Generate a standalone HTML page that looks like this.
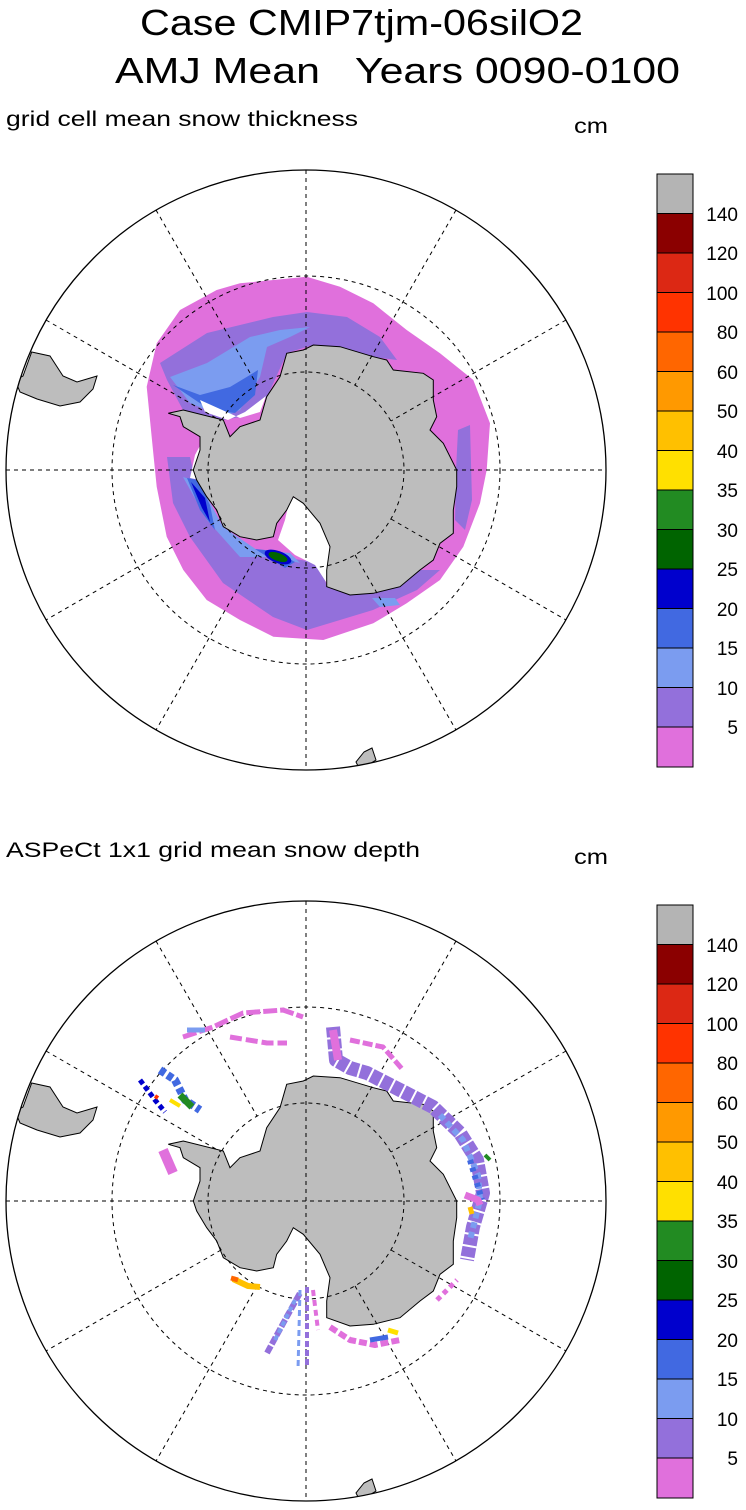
<!DOCTYPE html>
<html><head><meta charset="utf-8"><style>
html,body{margin:0;padding:0;background:#fff;}
svg{display:block;font-family:"Liberation Sans",sans-serif;}
</style></head><body>
<svg width="746" height="1510" viewBox="0 0 746 1510" xmlns="http://www.w3.org/2000/svg">
<defs>
<clipPath id="c1"><circle cx="306" cy="470" r="300"/></clipPath>
<clipPath id="c2"><circle cx="306" cy="1201" r="300"/></clipPath>
<path id="ant" d="M168.3,413.3 L183.3,410 L223.3,420 L230,436.7 L240,426.7 L260,420 L266.7,396.7 L280,376.7 L286.7,353.3 L303.3,350 L313.3,345 L340,346.7 L373.3,356.7 L386.7,360 L393.3,370 L423.3,373.3 L433.3,380 L433.3,400 L436.7,416.7 L430,430 L443.3,443.3 L456.7,470 L456.7,486.7 L453.3,510 L453.3,533.3 L440,543.3 L433.3,560 L420,570 L400,586.7 L373.3,593.3 L350,595 L326.7,586.7 L326.7,570 L330,546.7 L320,523.3 L303.3,503.3 L293.3,496.7 L286.7,510 L276.7,523.3 L273.3,536.7 L256.7,540 L240,536.7 L223.3,526.7 L216.7,510 L206.7,496.7 L196.7,480 L193.3,470 L200,450 L200,436.7 L183.3,426.7 L180,416.7 Z"/>
<path id="sam" d="M31.7,352 L50,356 L63,376 L77,382 L97,376 L93,389 L80,402 L60,406 L37,399 L20,392 L15,380 L23,376 Z"/>
<g id="grid" fill="none" stroke="#000" stroke-width="1" stroke-dasharray="4,4">
<circle cx="306" cy="470" r="194"/><circle cx="306" cy="470" r="98"/>
<line x1="6" y1="470" x2="606" y2="470"/><line x1="306" y1="170" x2="306" y2="770"/>
<line x1="156" y1="210" x2="257" y2="385"/><line x1="355" y1="555" x2="456" y2="730"/>
<line x1="456" y1="210" x2="355" y2="385"/><line x1="257" y1="555" x2="156" y2="730"/>
<line x1="46" y1="320" x2="221" y2="421"/><line x1="391" y1="519" x2="566" y2="620"/>
<line x1="566" y1="320" x2="391" y2="421"/><line x1="221" y1="519" x2="46" y2="620"/>
</g>
</defs>

<text x="140" y="35" font-size="36" textLength="443" lengthAdjust="spacingAndGlyphs">Case CMIP7tjm-06silO2</text>
<text x="115" y="83" font-size="36" textLength="565" lengthAdjust="spacingAndGlyphs" xml:space="preserve">AMJ Mean   Years 0090-0100</text>
<text x="6" y="126" font-size="21" textLength="352" lengthAdjust="spacingAndGlyphs">grid cell mean snow thickness</text>
<text x="574" y="133" font-size="21" textLength="34" lengthAdjust="spacingAndGlyphs">cm</text>
<text x="6" y="857" font-size="21" textLength="414" lengthAdjust="spacingAndGlyphs">ASPeCt 1x1 grid mean snow depth</text>
<text x="574" y="864" font-size="21" textLength="34" lengthAdjust="spacingAndGlyphs">cm</text>

<!-- TOP MAP -->
<g clip-path="url(#c1)">
<path fill="#e070dc" d="M216.7,290 L240,283.3 L306.7,276.7 L340,286.7 L373.3,303.3 L406.7,330 L440,353.3 L473.3,380 L490,423.3 L486.7,470 L480,503.3 L463.3,546.7 L440,580 L406.7,603.3 L373.3,623.3 L323.3,640 L273.3,636.7 L240,620 L206.7,600 L183.3,570 L166.7,536.7 L156.7,486.7 L153.3,453.3 L150,420 L146.7,386.7 L156.7,343.3 L180,310 Z"/>
<path fill="#9370db" d="M160,363 L207,333 L273,317 L307,312 L347,317 L380,337 L397,360 L373,357 L313,345 L287,353 L267,397 L240,417 L223,420 L183,410 L167,380 Z"/>
<path fill="#9370db" d="M167,457 L173,503 L190,537 L223,583 L273,617 L307,630 L340,620 L373,610 L417,590 L440,570 L420,570 L400,587 L373,593 L327,587 L320,563 L257,553 L223,527 L207,497 L193,470 L190,457 Z"/>
<path fill="#9370db" d="M458,430 L470,425 L472,500 L465,530 L455,520 L456,470 Z"/>
<path fill="#7b9cf0" d="M170,377 L207,363 L250,337 L280,330 L310,327 L290,337 L267,347 L260,377 L240,410 L223,417 L190,403 Z"/>
<path fill="#4169e1" d="M173,385 L200,395 L230,387 L250,375 L258,370 L255,395 L235,413 L210,410 Z"/>
<path fill="#7b9cf0" d="M183,477 L207,520 L240,557 L273,557 L300,563 L290,553 L257,550 L223,527 L207,497 L193,480 Z"/>
<path fill="#4169e1" d="M187,478 L200,510 L215,530 L210,505 L198,480 Z"/>
<path fill="#0000cd" d="M191,482 L202,508 L210,522 L205,498 Z"/>
<path fill="#4169e1" d="M255,549 L275,551 L295,562 L285,568 Z"/>
<ellipse cx="278" cy="557" rx="14" ry="6" fill="#0000cd" transform="rotate(20 278 557)"/>
<ellipse cx="278" cy="557" rx="10" ry="4" fill="#006400" transform="rotate(20 278 557)"/>
<path fill="#7b9cf0" d="M372,598 L395,598 L400,605 L380,607 Z"/>
<path fill="#fff" d="M200,400 L240,418 L260,412 L266,396 L245,412 L228,420 L205,412 Z M290,497 L305,500 L325,525 L332,560 L328,585 L315,565 L295,555 L278,540 L285,520 Z M195,455 L203,440 L200,480 L190,478 Z"/>
<use href="#ant" fill="#bdbdbd" stroke="#000" stroke-width="1"/>
<use href="#sam" fill="#bdbdbd" stroke="#000" stroke-width="1"/>
<path d="M364,752 L372,748 L376,760 L360,770 L356,762 Z" fill="#bdbdbd" stroke="#000" stroke-width="1"/>
<use href="#grid"/>
</g>
<circle cx="306" cy="470" r="300" fill="none" stroke="#000" stroke-width="1.3"/>

<!-- BOTTOM MAP -->
<g clip-path="url(#c2)">
<g transform="translate(0,731)">
<use href="#ant" fill="#bdbdbd" stroke="#000" stroke-width="1"/>
<use href="#sam" fill="#bdbdbd" stroke="#000" stroke-width="1"/>
<path d="M364,752 L372,748 L376,760 L360,770 L356,762 Z" fill="#bdbdbd" stroke="#000" stroke-width="1"/>
<use href="#grid"/>
</g>
<g fill="none" stroke-linejoin="round">
<polyline points="183,1037 213,1027 243,1013 283,1010 303,1017" stroke="#e070dc" stroke-width="5" stroke-dasharray="14,3"/>
<polyline points="230,1037 267,1043 287,1043" stroke="#e070dc" stroke-width="5" stroke-dasharray="12,4"/>
<polyline points="187,1030 205,1030" stroke="#7b9cf0" stroke-width="5"/>
<polyline points="160,1070 175,1080 185,1100 200,1110" stroke="#4169e1" stroke-width="8" stroke-dasharray="6,3"/>
<polyline points="140,1080 155,1100 165,1112" stroke="#0000cd" stroke-width="5" stroke-dasharray="5,3"/>
<polyline points="180,1095 192,1107" stroke="#228b22" stroke-width="7"/>
<polyline points="170,1100 180,1106" stroke="#ffe000" stroke-width="4"/>
<polyline points="155,1096 158,1098" stroke="#ff3300" stroke-width="4"/>
<polyline points="163,1150 173,1173" stroke="#e070dc" stroke-width="10"/>
<polyline points="333,1027 336,1060 350,1068 367,1073 400,1090 433,1107 460,1133 477,1160 483,1193 473,1227 467,1260" stroke="#9370db" stroke-width="14" stroke-dasharray="10,2"/>
<polyline points="440,1115 463,1140 478,1175 480,1200 470,1240" stroke="#7b9cf0" stroke-width="6" stroke-dasharray="6,4"/>
<polyline points="470,1160 482,1200" stroke="#4169e1" stroke-width="6" stroke-dasharray="4,4"/>
<polyline points="350,1040 383,1047 403,1070" stroke="#e070dc" stroke-width="5" stroke-dasharray="10,3"/>
<polyline points="333,1030 338,1060" stroke="#e070dc" stroke-width="8"/>
<polyline points="465,1195 478,1200 480,1205" stroke="#e070dc" stroke-width="7"/>
<polyline points="470,1207 472,1214" stroke="#ffc000" stroke-width="5"/>
<polyline points="485,1155 490,1160" stroke="#228b22" stroke-width="4"/>
<polyline points="233,1279 248,1286 260,1287" stroke="#ffc000" stroke-width="6"/>
<polyline points="231,1278 238,1280" stroke="#ff6600" stroke-width="5"/>
<polyline points="267,1353 285,1320 300,1293" stroke="#9370db" stroke-width="6" stroke-dasharray="8,2"/>
<polyline points="275,1340 295,1300" stroke="#7b9cf0" stroke-width="4" stroke-dasharray="5,3"/>
<polyline points="307,1287 307,1367" stroke="#9370db" stroke-width="4" stroke-dasharray="6,3"/>
<polyline points="300,1290 298,1370" stroke="#7b9cf0" stroke-width="3" stroke-dasharray="6,4"/>
<polyline points="313,1290 318,1330" stroke="#e070dc" stroke-width="4" stroke-dasharray="6,4"/>
<polyline points="330,1327 350,1340 375,1345 400,1340" stroke="#e070dc" stroke-width="6" stroke-dasharray="8,3"/>
<polyline points="370,1340 388,1337" stroke="#4169e1" stroke-width="5"/>
<polyline points="388,1330 398,1333" stroke="#ffe000" stroke-width="5"/>
<polyline points="437,1300 447,1290 457,1280" stroke="#e070dc" stroke-width="5" stroke-dasharray="5,4"/>
</g>
</g>
<circle cx="306" cy="1201" r="300" fill="none" stroke="#000" stroke-width="1.3"/>

<!-- COLORBARS -->
<g id="cb" stroke="#000" stroke-width="1">
<rect x="657" y="174" width="36" height="39.5" fill="#b4b4b4"/>
<rect x="657" y="213.5" width="36" height="39.5" fill="#8b0000"/>
<rect x="657" y="253" width="36" height="39.5" fill="#dc2814"/>
<rect x="657" y="292.5" width="36" height="39.5" fill="#ff3300"/>
<rect x="657" y="332" width="36" height="39.5" fill="#ff6600"/>
<rect x="657" y="371.5" width="36" height="39.5" fill="#ff9900"/>
<rect x="657" y="411" width="36" height="39.5" fill="#ffc000"/>
<rect x="657" y="450.5" width="36" height="39.5" fill="#ffe000"/>
<rect x="657" y="490" width="36" height="39.5" fill="#228b22"/>
<rect x="657" y="529.5" width="36" height="39.5" fill="#006400"/>
<rect x="657" y="569" width="36" height="39.5" fill="#0000cd"/>
<rect x="657" y="608.5" width="36" height="39.5" fill="#4169e1"/>
<rect x="657" y="648" width="36" height="39.5" fill="#7b9cf0"/>
<rect x="657" y="687.5" width="36" height="39.5" fill="#9370db"/>
<rect x="657" y="727" width="36" height="40" fill="#e070dc"/>
</g>
<g id="lb" font-size="19" text-anchor="end">
<text x="738" y="221">140</text><text x="738" y="260">120</text><text x="738" y="300">100</text>
<text x="738" y="339">80</text><text x="738" y="379">60</text><text x="738" y="418">50</text>
<text x="738" y="458">40</text><text x="738" y="497">35</text><text x="738" y="537">30</text>
<text x="738" y="576">25</text><text x="738" y="616">20</text><text x="738" y="655">15</text>
<text x="738" y="695">10</text><text x="738" y="734">5</text>
</g>
<use href="#cb" transform="translate(0,731)"/>
<use href="#lb" transform="translate(0,731)"/>
</svg>
</body></html>
